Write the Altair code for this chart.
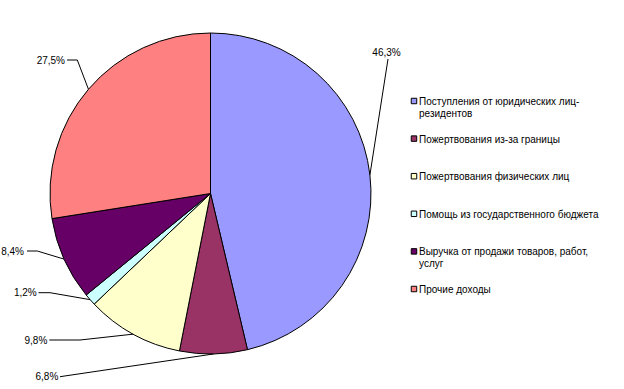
import math
import altair as alt
import pandas as pd

# ---- data ----
categories = [
    "Поступления от юридических лиц-\nрезидентов",
    "Пожертвования из-за границы",
    "Пожертвования физических лиц",
    "Помощь из государственного бюджета",
    "Выручка от продажи товаров, работ,\nуслуг",
    "Прочие доходы",
]
shares = [46.3, 6.8, 9.8, 1.2, 8.4, 27.5]
colors = ["#9999FF", "#993366", "#FFFFCC", "#CCFFFF", "#660066", "#FF8080"]

# ---- layout (pixels) ----
CX, CY, R = 210.5, 193.5, 160.5
FONT = "Liberation Sans"
# label text anchor (x, baseline y, align) and leader path start/elbow points
label_layout = [
    (386.5, 56.0, "center", [(388, 59)]),
    (58.3, 380.0, "right", [(60, 376.7)]),
    (47.3, 343.5, "right", [(49.3, 340), (80, 340)]),
    (36.7, 296.0, "right", [(38.5, 292.7), (50, 292.7)]),
    (24.0, 254.5, "right", [(27, 251), (37.3, 251)]),
    (65.0, 63.5, "right", [(67, 60), (77.3, 60)]),
]
LEG_X, LEG_TX, LEG_Y0, LEG_Y1 = 414, 419, 101, 289

# ---- tables ----
pie_df = pd.DataFrame({"cat": categories, "share": shares, "idx": range(len(shares))})

lab_rows, line_rows = [], []
cum = 0.0
for i, (v, (tx, ty, al, path)) in enumerate(zip(shares, label_layout)):
    mid = (cum + v / 2) / 100 * 2 * math.pi
    cum += v
    ex = CX + R * math.sin(mid)
    ey = CY - R * math.cos(mid)
    txt = f"{v:.1f}".replace(".", ",") + "%"
    lab_rows.append({"label": txt, "x": tx, "y": ty, "align": al})
    pts = list(path) + [(ex, ey)]
    for k, (px, py) in enumerate(pts):
        line_rows.append({"label": txt, "step": k, "x": px, "y": py})
lab_df = pd.DataFrame(lab_rows)
line_df = pd.DataFrame(line_rows)

color = alt.Color("cat:N", scale=alt.Scale(domain=categories, range=colors), legend=None)

pie = alt.Chart(pie_df).mark_arc(outerRadius=R, stroke="black", strokeWidth=1).encode(
    theta=alt.Theta("share:Q", stack=True),
    order=alt.Order("idx:Q"),
    color=color,
    x=alt.value(CX),
    y=alt.value(CY),
)

lines = alt.Chart(line_df).mark_line(color="black", strokeWidth=1).encode(
    x=alt.X("x:Q", scale=None, axis=None),
    y=alt.Y("y:Q", scale=None, axis=None),
    detail="label:N",
    order="step:Q",
)

def labels(al):
    return alt.Chart(lab_df[lab_df["align"] == al]).mark_text(
        align=al, baseline="alphabetic", font=FONT, fontSize=10, color="black"
    ).encode(
        x=alt.X("x:Q", scale=None, axis=None),
        y=alt.Y("y:Q", scale=None, axis=None),
        text="label:N",
    )

leg_y = alt.Y("idx:Q", scale=alt.Scale(domain=[0, len(categories) - 1], range=[LEG_Y0, LEG_Y1], nice=False, zero=False), axis=None)

leg_sq = alt.Chart(pie_df).mark_square(size=30, stroke="black", strokeWidth=1, opacity=1, filled=True).encode(
    x=alt.value(LEG_X), y=leg_y, color=color
)
leg_txt = alt.Chart(pie_df).mark_text(
    align="left", baseline="alphabetic", dy=4, lineBreak="\n", lineHeight=12,
    font=FONT, fontSize=10, color="black"
).encode(x=alt.value(LEG_TX), y=leg_y, text="cat:N")

chart = alt.layer(pie, lines, labels("right"), labels("center"), leg_sq, leg_txt).properties(
    width=624, height=389, padding=0, autosize="none", background="white"
).configure_view(stroke=None)

chart.save("out.html", embed_options={"renderer": "svg", "actions": False})
